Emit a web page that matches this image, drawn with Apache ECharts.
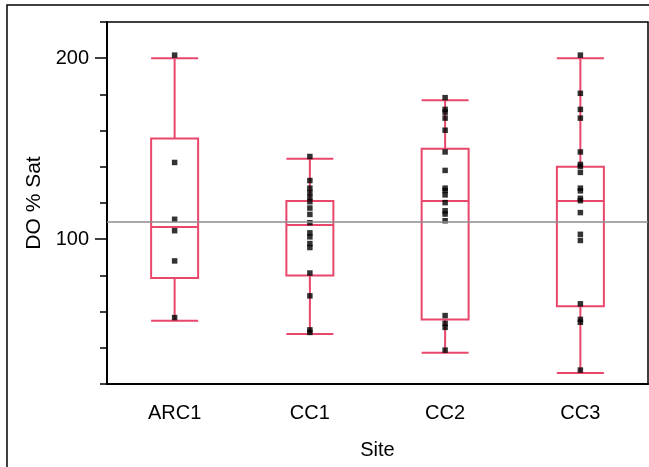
<!DOCTYPE html>
<html>
<head>
<meta charset="utf-8">
<script src="https://cdn.jsdelivr.net/npm/echarts@6/dist/echarts.min.js"></script>
<style>
  html, body { margin: 0; padding: 0; background: #fff; }
  #main { width: 649px; height: 467px; }
</style>
</head>
<body>
<div id="main"></div>
<script>
// sites on the x axis
const sites = ['ARC1', 'CC1', 'CC2', 'CC3'];

// box stats per site: [low whisker, Q1, median, Q3, high whisker]
const arc1Box = [55, 78.5, 106.7, 155.6, 200];
const cc1Box = [47.6, 80, 107.8, 121.1, 144.4];
const cc2Box = [37.2, 55.6, 121.1, 150, 176.7];
const cc3Box = [26.1, 63, 121.1, 140, 200];

// individual observations per site (DO % saturation)
const arc1Pts = [201.7, 142.4, 111, 104.7, 88, 56.7];
const cc1Pts = [145.7, 132.4, 128.2, 125.7, 123.2, 120.7, 117.2, 113.7, 109.1, 103.5, 101.3, 97.6, 95.4, 81.3, 68.7, 49.9, 48.5];
const cc2Pts = [178.2, 171.7, 170.2, 166.9, 160.2, 148.2, 138, 128.2, 126.9, 124.5, 120.2, 115.7, 113.9, 110.2, 57.8, 53.5, 51.3, 38.7];
const cc3Pts = [201.7, 180.6, 171.7, 166.9, 148.2, 141.3, 140.2, 136.9, 128.2, 126.7, 122.6, 121.3, 114.7, 102.7, 99.3, 64.3, 55.7, 54.1, 27.7];

// overall mean line and labelled y ticks
const grandMean = 109.5;
const yLabelTicks = [100, 200];

const pink = '#ea476c';
const font = 'Liberation Sans, Arial, sans-serif';

const boxData = [arc1Box, cc1Box, cc2Box, cc3Box];
const pointData = [];
[arc1Pts, cc1Pts, cc2Pts, cc3Pts].forEach((list, i) => {
  list.forEach(v => pointData.push([sites[i], v]));
});

const chart = echarts.init(document.getElementById('main'));
chart.setOption({
  backgroundColor: '#fff',
  animation: false,
  textStyle: { fontFamily: font },
  graphic: [
    {
      // outer frame around the figure
      type: 'rect',
      z: -10,
      shape: { x: 7, y: 5, width: 700, height: 520 },
      style: { fill: 'none', stroke: '#000', lineWidth: 1.5 },
    },
  ],
  grid: {
    left: 107,
    top: 22,
    right: 1,
    bottom: 83,
    show: true,
    borderColor: '#000',
    borderWidth: 1.5,
  },
  xAxis: {
    type: 'category',
    data: sites,
    boundaryGap: true,
    name: 'Site',
    nameLocation: 'middle',
    nameGap: 56,
    nameTextStyle: { fontSize: 20, color: '#000', fontFamily: font },
    axisLine: { lineStyle: { color: '#000', width: 2 } },
    axisTick: {
      length: 10,
      lineStyle: { color: '#000', width: 1.5 },
      interval: (i) => i > 0,
    },
    axisLabel: { fontSize: 20, color: '#000', margin: 19, fontFamily: font },
    splitLine: { show: false },
  },
  yAxis: [
    {
      type: 'value',
      min: 20,
      max: 220,
      interval: 20,
      name: 'DO % Sat',
      nameLocation: 'middle',
      nameGap: 60,
      nameTextStyle: { fontSize: 21, color: '#000', fontFamily: font },
      axisLine: { show: true, lineStyle: { color: '#000', width: 2 } },
      axisTick: {
        show: true,
        length: 12,
        customValues: yLabelTicks,
        lineStyle: { color: '#000', width: 1.5 },
      },
      axisLabel: {
        fontSize: 20,
        color: '#000',
        margin: 18,
        fontFamily: font,
        customValues: yLabelTicks,
      },
      splitLine: { show: false },
    },
    {
      // short minor ticks every 20
      type: 'value',
      min: 20,
      max: 220,
      interval: 20,
      position: 'left',
      axisLine: { show: false },
      axisTick: { show: true, length: 7, lineStyle: { color: '#000', width: 1.5 } },
      axisLabel: { show: false },
      splitLine: { show: false },
    },
  ],
  series: [
    {
      type: 'boxplot',
      data: boxData,
      boxWidth: [47, 47],
      itemStyle: { color: 'transparent', borderColor: pink, borderWidth: 2 },
      emphasis: { disabled: true },
      z: 3,
    },
    {
      type: 'scatter',
      data: pointData,
      symbol: 'rect',
      symbolSize: 5.5,
      itemStyle: { color: '#000' },
      z: 4,
      markLine: {
        silent: true,
        symbol: 'none',
        label: { show: false },
        lineStyle: { color: '#8c8c8c', width: 1.5, type: 'solid' },
        data: [{ yAxis: grandMean }],
      },
    },
  ],
});
</script>
</body>
</html>
